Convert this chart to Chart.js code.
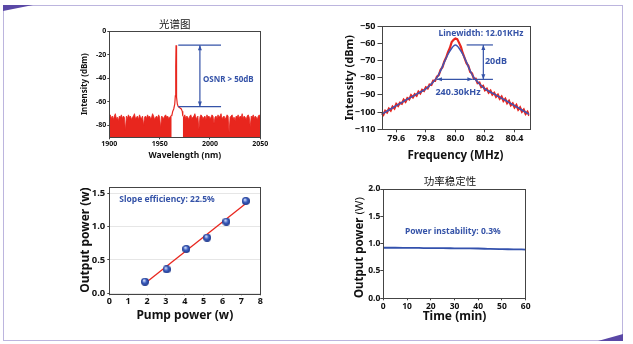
<!DOCTYPE html>
<html>
<head>
<meta charset="utf-8">
<script src="https://cdn.jsdelivr.net/npm/chart.js@4.4.1/dist/chart.umd.min.js"></script>
<style>
  html, body { margin: 0; padding: 0; background: #fff; }
  body { width: 633px; height: 344px; position: relative; overflow: hidden; }
  #frame { position: absolute; left: 3px; top: 5px; width: 620px; height: 336px;
           border: 1.5px solid #bcb5de; box-sizing: border-box; }
  .wedge { position: absolute; background: #5a48a6; }
  #wedgeTL { left: 3px; top: 5px; width: 30px; height: 6px; clip-path: polygon(0 0, 100% 0, 0 100%); }
  #wedgeBR { left: 598px; top: 334px; width: 25px; height: 7px; clip-path: polygon(100% 0, 100% 100%, 0 100%); }
  canvas { position: absolute; }
</style>
</head>
<body>
<div id="frame"></div>
<div class="wedge" id="wedgeTL"></div>
<div class="wedge" id="wedgeBR"></div>
<canvas id="osa" width="200" height="153" style="left:70px;top:12px"></canvas>
<canvas id="beat" width="205" height="153" style="left:335px;top:12px"></canvas>
<canvas id="slope" width="200" height="150" style="left:70px;top:175px"></canvas>
<canvas id="stab" width="200" height="160" style="left:335px;top:168px"></canvas>
<script>
// ---- optical spectrum (nm, dBm) ----
const osaLeftStart = 1900;
const osaNoiseLeft = [
  -73,-71,-74,-72,-75,-72,-70,-74,-73,-76,
  -72,-73,-71,-74,-72,-73,-84,-72,-74,-71,
  -73,-72,-75,-73,-72,-70,-74,-73,-72,-75,
  -71,-73,-74,-72,-80,-73,-72,-74,-71,-73,
  -72,-74,-73,-70,-72,-75,-73,-72,-74,-71,
  -73,-82,-72,-73,-74,-72,-71,-73,-72,-74,
  -73,-72,-71];
const osaRightStart = 1973;
const osaNoiseRight = [
  -72,-73,-71,-74,-72,-73,-75,-72,-71,-74,
  -73,-72,-70,-73,-74,-72,-83,-73,-71,-72,
  -74,-73,-72,-75,-71,-73,-72,-74,-73,-71,
  -72,-78,-73,-72,-74,-71,-73,-72,-70,-74,
  -73,-72,-75,-73,-71,-72,-86,-73,-72,-71,
  -74,-73,-76,-72,-73,-71,-74,-72,-73,-70,
  -74,-72,-73,-75,-72,-71,-73,-81,-72,-73,
  -71,-74,-72,-73,-75,-72,-71,-73];
const osaPeakWl  = [1962, 1963, 1964, 1965, 1965.6, 1966, 1966.3, 1966.6, 1967, 1967.6, 1968.5, 1970, 1971.5, 1972.5, 1973];
const osaPeakDbm = [-72, -68, -66, -62, -55, -30, -12, -30, -56, -62, -64, -65, -66, -68, -72];
const osaXTicks = [1900, 1950, 2000, 2050];
const osaYTicks = [0, -20, -40, -60, -80];

// ---- beat note spectrum (MHz, dBm) ----
const beatStart = 79.5;
const beatStep = 0.0125;
const beatMeasured = [
  -100.6,-101.6,-99.3,-100.2,-98.0,-99.1,-96.8,-97.9,-95.3,-96.4,
  -94.6,-95.2,-92.8,-94.0,-91.9,-92.6,-90.2,-91.4,-89.6,-90.5,
  -88.1,-89.2,-87.1,-87.7,-85.6,-86.3,-84.0,-84.3,-81.8,-81.9,
  -79.4,-78.5,-75.4,-73.9,-70.6,-68.3,-65.2,-62.8,-59.3,-58.0,
  -57.3,
  -57.6,-59.8,-62.2,-65.8,-68.7,-71.6,-73.1,-76.6,-77.5,-80.7,
  -80.6,-83.2,-82.9,-85.5,-84.8,-87.3,-86.4,-88.7,-87.6,-89.9,
  -88.8,-91.1,-89.9,-92.2,-91.0,-93.5,-92.3,-94.8,-93.5,-96.0,
  -94.9,-97.3,-95.9,-98.6,-97.3,-99.8,-98.5,-101.1,-99.8,-102.1];
const fitFreq = [79.5, 79.55, 79.6, 79.65, 79.7, 79.75, 79.8, 79.85, 79.875, 79.9, 79.925, 79.95, 79.975, 79.9875,
                 80.0, 80.0125, 80.025, 80.05, 80.075, 80.1, 80.125, 80.15, 80.2, 80.25, 80.3, 80.35, 80.4, 80.45, 80.5];
const fitDbm  = [-101.3, -98.8, -96.3, -93.8, -91.3, -89, -86.5, -82.5, -80, -76, -71, -66.4, -62.9, -61.6,
                 -61, -61.6, -62.9, -66.4, -71, -76, -80, -82.5, -86.5, -89, -91.3, -93.8, -96.3, -98.8, -101.3];
const beatXTicks = [79.6, 79.8, 80.0, 80.2, 80.4];
const beatYTicks = [-50, -60, -70, -80, -90, -100, -110];

// ---- slope efficiency (W) ----
const pumpW = [1.89, 3.04, 4.08, 5.18, 6.2, 7.23];
const outW  = [0.174, 0.36, 0.665, 0.835, 1.075, 1.385];
const fitPump = [1.9, 7.2];
const fitOut  = [0.15, 1.34];
const slopeXTicks = [0, 1, 2, 3, 4, 5, 6, 7, 8];
const slopeYTicks = [0, 0.5, 1.0, 1.5];

// ---- power stability (min, W) ----
const timeMin = [0, 5, 10, 15, 20, 25, 30, 35, 40, 45, 50, 55, 60];
const powerW  = [0.925, 0.925, 0.923, 0.921, 0.917, 0.917, 0.915, 0.913, 0.911, 0.903, 0.899, 0.896, 0.892];
const stabXTicks = [0, 10, 20, 30, 40, 50, 60];
const stabYTicks = [0, 0.5, 1.0, 1.5, 2.0];

const FONT = '"Noto Sans", "Noto Sans CJK SC", sans-serif';
const CJK = '"Noto Sans CJK SC", sans-serif';
const RED = '#e8261e';
const BLUE = '#3553a8';
const INK = '#111';

const pts = (xs, ys) => xs.map((x, i) => ({x: x, y: ys[i]}));
const seq = (start, step, ys) => ys.map((y, i) => ({x: start + i * step, y: y}));

function arrowHead(ctx, x, y, ang, len, w) {
  const c = Math.cos(ang), s = Math.sin(ang);
  ctx.beginPath();
  ctx.moveTo(x, y);
  ctx.lineTo(x - len * c + w * s, y - len * s - w * c);
  ctx.lineTo(x - len * c - w * s, y - len * s + w * c);
  ctx.closePath();
  ctx.fill();
}

// box around the plot, annotation lines/arrows/texts and the chart caption
const marks = {
  id: 'marks',
  afterDatasetsDraw(chart, args, opts) {
    const {ctx, chartArea: a, scales: {x, y}} = chart;
    ctx.save();
    ctx.strokeStyle = '#444';
    ctx.lineWidth = 1;
    ctx.strokeRect(Math.round(a.left) + 0.5, Math.round(a.top) + 0.5,
                   Math.round(a.right - a.left), Math.round(a.bottom - a.top));
    ctx.strokeStyle = BLUE;
    ctx.fillStyle = BLUE;
    ctx.lineWidth = 1.2;
    (opts.items || []).forEach(it => {
      if (it.type === 'line') {
        const x1 = x.getPixelForValue(it.from[0]), y1 = y.getPixelForValue(it.from[1]);
        const x2 = x.getPixelForValue(it.to[0]), y2 = y.getPixelForValue(it.to[1]);
        ctx.beginPath();
        ctx.moveTo(x1, y1);
        ctx.lineTo(x2, y2);
        ctx.stroke();
        const ang = Math.atan2(y2 - y1, x2 - x1);
        if (it.heads === 'both' || it.heads === 'end') arrowHead(ctx, x2, y2, ang, 5, 2);
        if (it.heads === 'both' || it.heads === 'start') arrowHead(ctx, x1, y1, ang + Math.PI, 5, 2);
      } else if (it.type === 'head') {
        arrowHead(ctx, x.getPixelForValue(it.at[0]), y.getPixelForValue(it.at[1]), it.dir === 'left' ? Math.PI : 0, 5, 2);
      } else if (it.type === 'text') {
        ctx.font = 'bold ' + it.size + 'px ' + FONT;
        ctx.textAlign = it.align || 'left';
        ctx.textBaseline = 'middle';
        ctx.fillText(it.text, x.getPixelForValue(it.at[0]), y.getPixelForValue(it.at[1]));
      }
    });
    ctx.fillStyle = INK;
    if (opts.caption) {
      const c = opts.caption;
      ctx.font = c.size + 'px ' + CJK;
      ctx.textAlign = 'center';
      ctx.textBaseline = 'middle';
      ctx.fillText(c.text, c.x, c.y);
    }
    // rotated axis title written in mixed weights
    if (opts.sideTitle) {
      const t = opts.sideTitle;
      const fonts = t.parts.map(p => (p.bold ? 'bold ' : '') + t.size + 'px ' + FONT);
      const widths = t.parts.map((p, i) => { ctx.font = fonts[i]; return ctx.measureText(p.text).width; });
      let pos = -widths.reduce((s, w) => s + w, 0) / 2;
      ctx.translate(t.x, t.y);
      ctx.rotate(-Math.PI / 2);
      ctx.textAlign = 'left';
      ctx.textBaseline = 'middle';
      t.parts.forEach((p, i) => {
        ctx.font = fonts[i];
        ctx.fillText(p.text, pos, 0);
        pos += widths[i];
      });
    }
    ctx.restore();
  }
};

function axis(cfg) {
  return {
    type: 'linear',
    min: cfg.min,
    max: cfg.max,
    afterBuildTicks: s => { s.ticks = cfg.ticks.map(v => ({value: v})); },
    afterFit: s => { if (cfg.width) s.width = cfg.width; if (cfg.height) s.height = cfg.height; },
    border: {display: false},
    grid: {
      display: true,
      drawOnChartArea: !!cfg.gridLines,
      color: cfg.gridLines || '#444',
      tickColor: '#444',
      tickLength: cfg.tickLength,
      lineWidth: 1
    },
    ticks: {
      color: INK,
      padding: cfg.pad,
      maxRotation: 0,
      autoSkip: false,
      font: {family: FONT, size: cfg.tickSize, weight: 'bold'},
      callback: cfg.fmt
    },
    title: {
      display: !!cfg.title,
      text: cfg.title,
      color: INK,
      font: {family: FONT, size: cfg.titleSize, weight: 'bold'},
      padding: cfg.titlePad
    }
  };
}

function baseOptions(padding, xAxis, yAxis, markOpts) {
  return {
    responsive: false,
    animation: false,
    layout: {padding: padding},
    plugins: {legend: {display: false}, tooltip: {enabled: false}, marks: markOpts},
    scales: {x: xAxis, y: yAxis}
  };
}

// ---- optical spectrum ----
new Chart(document.getElementById('osa'), {
  type: 'line',
  plugins: [marks],
  data: {
    datasets: [
      {data: seq(osaLeftStart, 1, osaNoiseLeft), borderColor: RED, backgroundColor: RED, borderWidth: 0.8, pointRadius: 0, fill: 'start', tension: 0},
      {data: seq(osaRightStart, 1, osaNoiseRight), borderColor: RED, backgroundColor: RED, borderWidth: 0.8, pointRadius: 0, fill: 'start', tension: 0},
      {data: pts(osaPeakWl, osaPeakDbm), borderColor: RED, borderWidth: 1.2, pointRadius: 0, fill: false, tension: 0}
    ]
  },
  options: baseOptions({top: 19, right: 9.7, left: 0, bottom: 0},
    axis({min: 1900, max: 2050, ticks: osaXTicks, height: 27.7, tickLength: 2, pad: 0, tickSize: 7,
          fmt: v => String(v), title: 'Wavelength (nm)', titleSize: 8.5, titlePad: {top: 0, bottom: 4}}),
    axis({min: -90, max: 0, ticks: osaYTicks, width: 39.3, tickLength: 2, pad: 1, tickSize: 7,
          fmt: v => String(v), title: 'Intensity (dBm)', titleSize: 8, titlePad: {top: 10, bottom: 0}}),
    {
      caption: {text: '光谱图', x: 104.7, y: 12, size: 10.5},
      items: [
        {type: 'line', from: [1968.5, -12], to: [2011, -12]},
        {type: 'line', from: [1968.5, -64], to: [2011, -64]},
        {type: 'line', from: [1990, -12], to: [1990, -64], heads: 'both'},
        {type: 'text', at: [1993, -41], text: 'OSNR > 50dB', size: 8}
      ]
    })
});

// ---- beat note ----
new Chart(document.getElementById('beat'), {
  type: 'line',
  plugins: [marks],
  data: {
    datasets: [
      {data: pts(fitFreq, fitDbm), borderColor: '#3f55b4', borderWidth: 1.5, pointRadius: 0, fill: false,
       cubicInterpolationMode: 'monotone', order: 0},
      {data: seq(beatStart, beatStep, beatMeasured), borderColor: RED, borderWidth: 2.2, pointRadius: 0, fill: false,
       tension: 0, order: 1}
    ]
  },
  options: baseOptions({top: 14, right: 10.7, left: 0, bottom: 0},
    axis({min: 79.5, max: 80.5, ticks: beatXTicks, height: 35.7, tickLength: 3, pad: 1, tickSize: 9,
          fmt: v => v.toFixed(1), title: 'Frequency (MHz)', titleSize: 11.5, titlePad: {top: 0, bottom: 2.4}}),
    axis({min: -110, max: -50, ticks: beatYTicks, width: 46.5, tickLength: 4, pad: 2, tickSize: 9,
          fmt: v => (v < 0 ? '\u2212' + Math.abs(v) : String(v)), title: 'Intensity (dBm)', titleSize: 11,
          titlePad: {top: 8.4, bottom: 0}}),
    {
      items: [
        {type: 'text', at: [80.173, -54.6], text: 'Linewidth: 12.01KHz', size: 8.5, align: 'center'},
        {type: 'line', from: [80.076, -61], to: [80.254, -61]},
        {type: 'line', from: [80.115, -81], to: [79.875, -81], heads: 'end'},
        {type: 'line', from: [80.115, -81], to: [80.254, -81]},
        {type: 'head', at: [80.115, -81], dir: 'right'},
        {type: 'line', from: [80.189, -61], to: [80.189, -81], heads: 'both'},
        {type: 'text', at: [80.2, -70.5], text: '20dB', size: 9},
        {type: 'text', at: [80.018, -88.7], text: '240.30kHz', size: 9, align: 'center'}
      ]
    })
});

// shaded ball used for the measured points
function ballImage(r) {
  const c = document.createElement('canvas');
  c.width = c.height = r * 2;
  const g = c.getContext('2d');
  const grd = g.createRadialGradient(r * 0.75, r * 0.65, r * 0.15, r, r, r);
  grd.addColorStop(0, '#c3d2f5');
  grd.addColorStop(0.45, '#3d5fc0');
  grd.addColorStop(1, '#1d3689');
  g.fillStyle = grd;
  g.beginPath();
  g.arc(r, r, r, 0, Math.PI * 2);
  g.fill();
  return c;
}

// ---- slope efficiency ----
new Chart(document.getElementById('slope'), {
  type: 'line',
  plugins: [marks],
  data: {
    datasets: [
      {data: pts(pumpW, outW), showLine: false, pointStyle: ballImage(4), pointRadius: 4, order: 0},
      {data: pts(fitPump, fitOut), borderColor: RED, borderWidth: 1.3, pointRadius: 0, fill: false, order: 1}
    ]
  },
  options: baseOptions({top: 11.7, right: 9.7, left: 0, bottom: 0},
    axis({min: 0, max: 8, ticks: slopeXTicks, height: 31.7, tickLength: 2, pad: 1, tickSize: 9,
          fmt: v => String(v), title: 'Pump power (w)', titleSize: 12, titlePad: {top: 0, bottom: 2.4}}),
    axis({min: 0, max: 1.6, ticks: slopeYTicks, width: 39.3, tickLength: 2, pad: 2, tickSize: 9.5,
          fmt: v => v.toFixed(1), title: 'Output power (w)', titleSize: 12, titlePad: {top: 8, bottom: 0},
          gridLines: '#e6e6e6'}),
    {
      items: [
        {type: 'text', at: [0.53, 1.40], text: 'Slope efficiency: 22.5%', size: 8.5}
      ]
    })
});

// ---- power stability ----
new Chart(document.getElementById('stab'), {
  type: 'line',
  plugins: [marks],
  data: {
    datasets: [
      {data: pts(timeMin, powerW), borderColor: '#3351ad', borderWidth: 1.8, pointRadius: 0, fill: false,
       cubicInterpolationMode: 'monotone'}
    ]
  },
  options: baseOptions({top: 21, right: 9.3, left: 0, bottom: 0},
    axis({min: 0, max: 60, ticks: stabXTicks, height: 29.7, tickLength: 2, pad: 1.5, tickSize: 8.5,
          fmt: v => String(v), title: 'Time (min)', titleSize: 12, titlePad: {top: 0, bottom: 4.1}}),
    axis({min: 0, max: 2, ticks: stabYTicks, width: 48.3, tickLength: 3, pad: 0, tickSize: 8.5,
          fmt: v => v.toFixed(1)}),
    {
      caption: {text: '功率稳定性', x: 115, y: 12.7, size: 10.5},
      sideTitle: {x: 25, y: 79.5, size: 11.5, parts: [{text: 'Output power ', bold: true}, {text: '(W)', bold: false}]},
      items: [
        {type: 'text', at: [9.1, 1.23], text: 'Power instability: 0.3%', size: 8.5}
      ]
    })
});
</script>
</body>
</html>
